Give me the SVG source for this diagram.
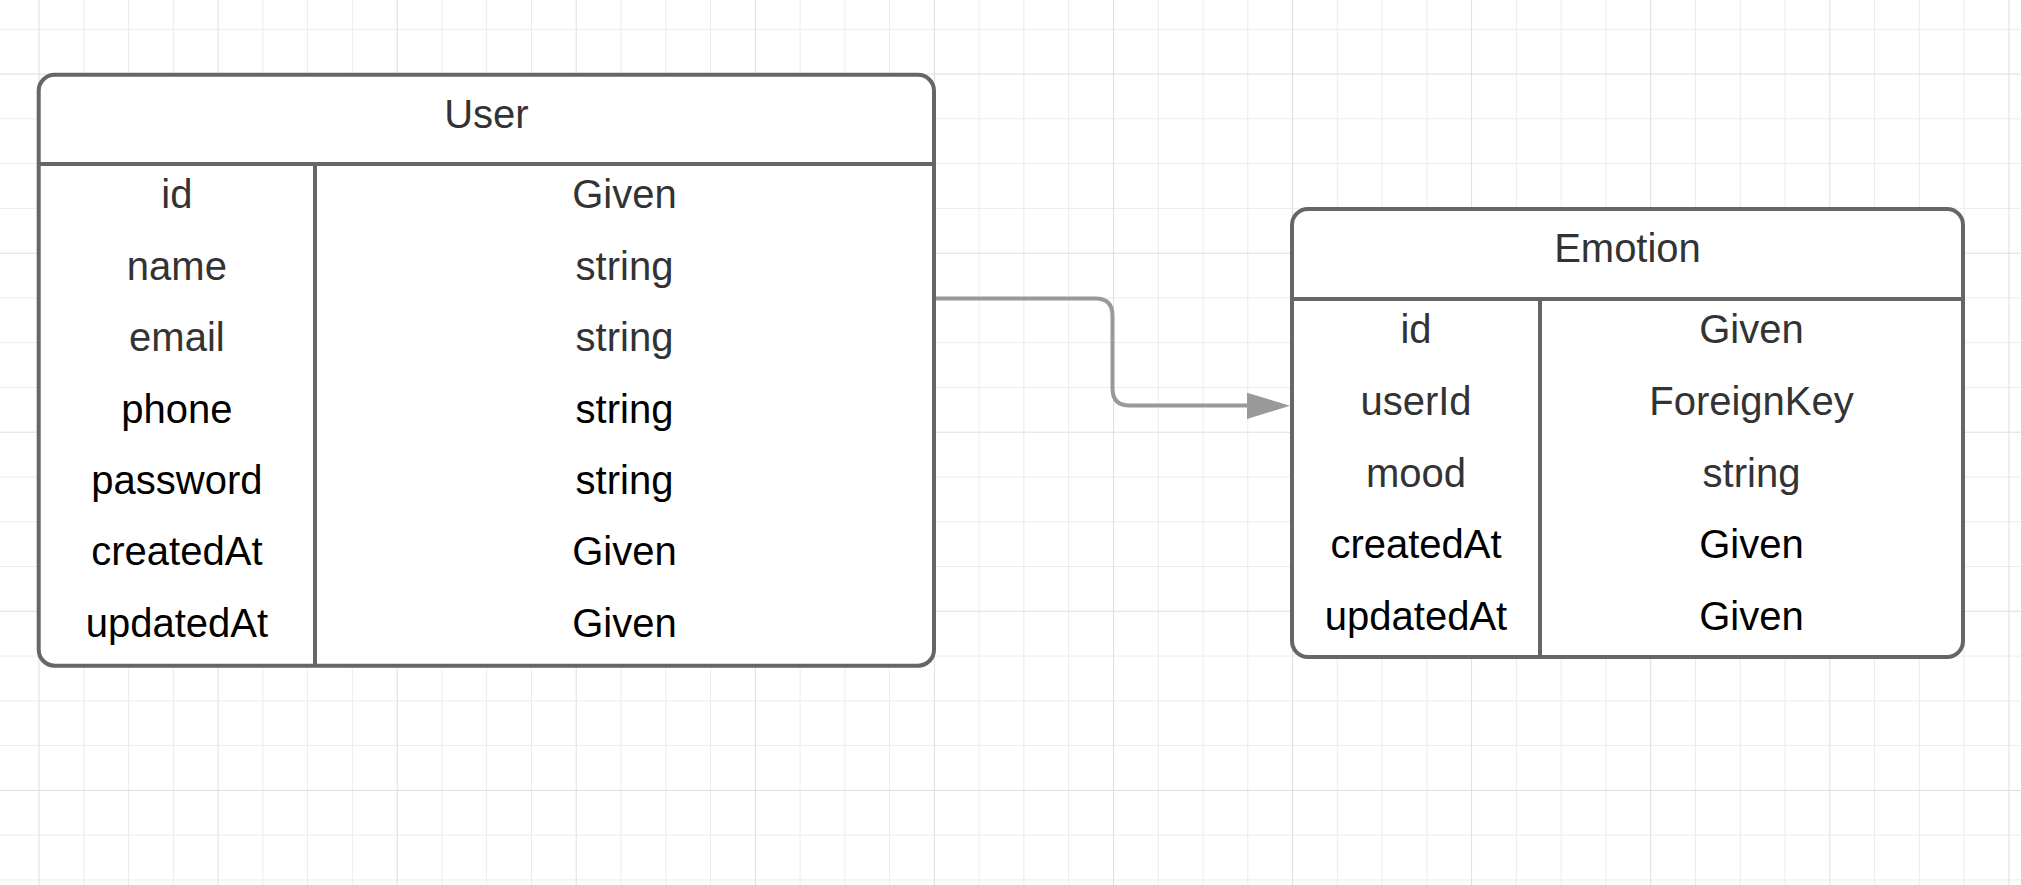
<svg xmlns="http://www.w3.org/2000/svg" width="2021" height="885" viewBox="0 0 2021 885">
  <style>
    .minor { stroke: #ececec; stroke-width: 1; fill: none; }
    .major { stroke: #dedede; stroke-width: 1; fill: none; }
    .box { fill: #ffffff; stroke: #666666; stroke-width: 4; }
    .sep { stroke: #666666; stroke-width: 4; fill: none; }
    .conn { stroke: #999999; stroke-width: 4; fill: none; }
    text { font-family: "Liberation Sans", Arial, sans-serif; font-size: 40px; text-anchor: middle; }
    .g { fill: #333333; }
    .k { fill: #000000; }
  </style>
  <rect x="0" y="0" width="2021" height="885" fill="#ffffff"/>
  <g id="grid">
    <path class="minor" d="M83.8 0V885M128.5 0V885M173.3 0V885M262.9 0V885M307.6 0V885M352.4 0V885M441.9 0V885M486.7 0V885M531.5 0V885M621 0V885M665.8 0V885M710.5 0V885M800.1 0V885M844.9 0V885M889.6 0V885M979.2 0V885M1023.9 0V885M1068.7 0V885M1158.3 0V885M1203 0V885M1247.8 0V885M1337.3 0V885M1382.1 0V885M1426.9 0V885M1516.4 0V885M1561.2 0V885M1606 0V885M1695.5 0V885M1740.3 0V885M1785 0V885M1874.6 0V885M1919.3 0V885M1964.1 0V885"/>
    <path class="minor" d="M0 29.3H2021M0 118.8H2021M0 163.6H2021M0 208.4H2021M0 297.9H2021M0 342.7H2021M0 387.5H2021M0 477H2021M0 521.8H2021M0 566.5H2021M0 656.1H2021M0 700.9H2021M0 745.6H2021M0 835.2H2021M0 879.9H2021"/>
    <path class="major" d="M39 0V885M218.1 0V885M397.2 0V885M576.2 0V885M755.3 0V885M934.4 0V885M1113.5 0V885M1292.6 0V885M1471.6 0V885M1650.7 0V885M1829.8 0V885M2008.9 0V885"/>
    <path class="major" d="M0 74.1H2021M0 253.2H2021M0 432.2H2021M0 611.3H2021M0 790.4H2021"/>
  </g>
  <g id="connectors">
    <path class="conn" d="M936 298.5H1095.5Q1112.5 298.5 1112.5 315.5V388.5Q1112.5 405.5 1129.5 405.5H1250"/>
    <polygon points="1247,392.7 1290,405.8 1247,419" fill="#999999"/>
  </g>
  <g id="User">
    <rect class="box" x="38.7" y="74.8" width="895.3" height="590.9" rx="16" ry="16"/>
    <path class="sep" d="M38.7 164H934M315 164V665.7"/>
    <text class="g" x="486.4" y="128.3">User</text>
    <text class="g" x="176.9" y="208.3">id</text>
    <text class="g" x="624.5" y="208.3">Given</text>
    <text class="g" x="176.9" y="279.7">name</text>
    <text class="g" x="624.5" y="279.7">string</text>
    <text class="g" x="176.9" y="351.1">email</text>
    <text class="g" x="624.5" y="351.1">string</text>
    <text class="k" x="176.9" y="422.5">phone</text>
    <text class="k" x="624.5" y="422.5">string</text>
    <text class="k" x="176.9" y="493.9">password</text>
    <text class="k" x="624.5" y="493.9">string</text>
    <text class="k" x="176.9" y="565.3">createdAt</text>
    <text class="k" x="624.5" y="565.3">Given</text>
    <text class="k" x="176.9" y="636.7">updatedAt</text>
    <text class="k" x="624.5" y="636.7">Given</text>
  </g>
  <g id="Emotion">
    <rect class="box" x="1292" y="209" width="671" height="448" rx="16" ry="16"/>
    <path class="sep" d="M1292 299H1963M1540 299V657"/>
    <text class="g" x="1627.5" y="261.7">Emotion</text>
    <text class="g" x="1416" y="343.3">id</text>
    <text class="g" x="1751.5" y="343.3">Given</text>
    <text class="g" x="1416" y="414.9">userId</text>
    <text class="g" x="1751.5" y="414.9">ForeignKey</text>
    <text class="g" x="1416" y="486.5">mood</text>
    <text class="g" x="1751.5" y="486.5">string</text>
    <text class="k" x="1416" y="558.1">createdAt</text>
    <text class="k" x="1751.5" y="558.1">Given</text>
    <text class="k" x="1416" y="629.7">updatedAt</text>
    <text class="k" x="1751.5" y="629.7">Given</text>
  </g>
</svg>
